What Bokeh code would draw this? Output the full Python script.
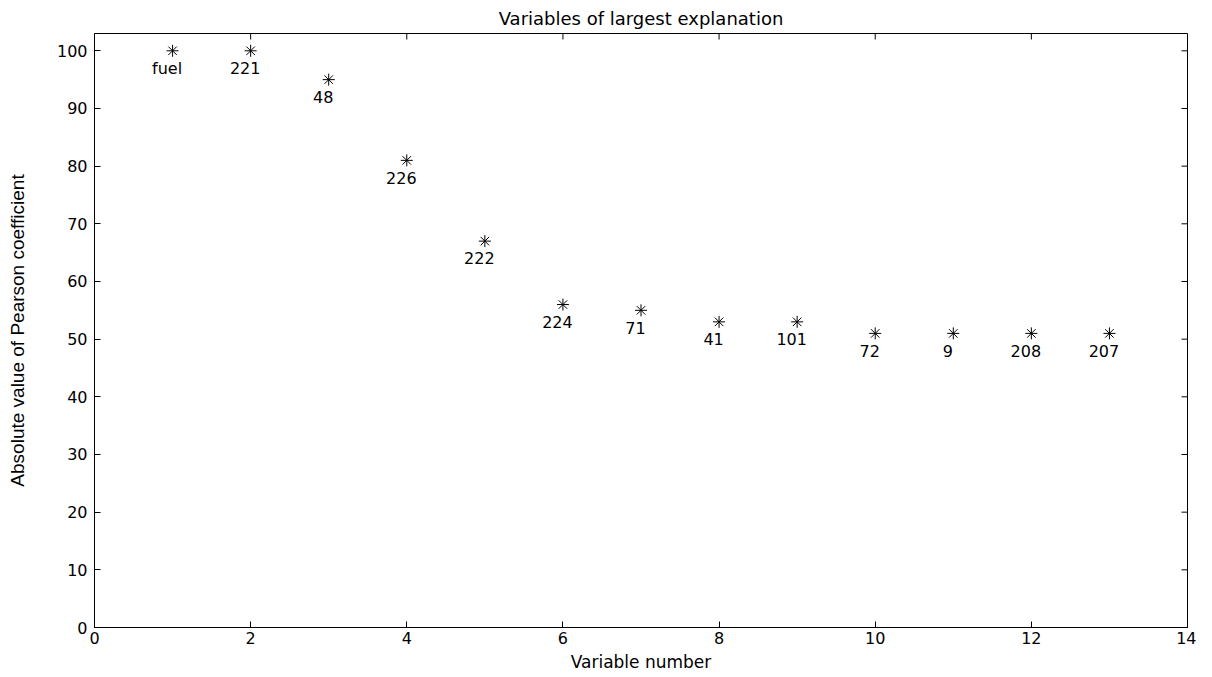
import math
from bokeh.plotting import figure
from bokeh.models import Range1d, ColumnDataSource, FixedTicker
from bokeh.embed import file_html
from bokeh.resources import INLINE
from bokeh.core.properties import value

# ---- data ----
variable_number = [1, 2, 3, 4, 5, 6, 7, 8, 9, 10, 11, 12, 13]
pearson_abs = [100, 100, 95, 81, 67, 56, 55, 53, 53, 51, 51, 51, 51]
names = ["fuel", "221", "48", "226", "222", "224", "71", "41", "101", "72", "9", "208", "207"]
x_ticks = [0, 2, 4, 6, 8, 10, 12, 14]
y_ticks = [0, 10, 20, 30, 40, 50, 60, 70, 80, 90, 100]
x_lim = (0, 14)
y_lim = (0, 103)

FONT = "DejaVu Sans"

src = ColumnDataSource(dict(
    x=variable_number,
    y=pearson_abs,
    lx=[v - 0.07 for v in variable_number],
    ly=[v - 3 for v in pearson_abs],
    name=names,
))

p = figure(width=1196, height=674, output_backend="svg", toolbar_location=None,
           x_range=Range1d(*x_lim), y_range=Range1d(*y_lim),
           title="Variables of largest explanation",
           min_border_left=94, min_border_right=9, min_border_top=33, min_border_bottom=46)

p.title.align = "center"
p.title.text_font = FONT
p.title.text_font_size = "18px"
p.title.text_font_style = "normal"
p.title.text_color = "black"
p.title.offset = 0
p.title.standoff = 9

p.xgrid.visible = False
p.ygrid.visible = False
p.outline_line_color = "black"
p.outline_line_width = 1
p.background_fill_color = "white"
p.border_fill_color = "white"

for ax in [p.xaxis[0], p.yaxis[0]]:
    ax.major_tick_in = 6
    ax.major_tick_out = 0
    ax.minor_tick_line_color = None
    ax.axis_line_color = "black"
    ax.major_tick_line_color = "black"
    ax.major_label_text_font = FONT
    ax.major_label_text_font_size = "16px"
    ax.major_label_text_color = "black"
    ax.axis_label_text_font_style = "normal"
    ax.axis_label_text_color = "black"

p.xaxis[0].ticker = FixedTicker(ticks=x_ticks)
p.yaxis[0].ticker = FixedTicker(ticks=y_ticks)
p.xaxis[0].major_label_standoff = 4
p.yaxis[0].major_label_standoff = 7

p.xaxis.axis_label = "Variable number"
p.xaxis.axis_label_text_font = FONT
p.xaxis.axis_label_text_font_size = "17px"
p.xaxis.axis_label_standoff = 5

p.yaxis.axis_label = "Absolute value of Pearson coefficient"
p.yaxis.axis_label_text_font = "Liberation Sans"
p.yaxis.axis_label_text_font_size = "19px"
p.yaxis.axis_label_standoff = 26

# mirror ticks on top and right edges (inward, 6px)
p.ray(x=x_ticks, y=[y_lim[1]] * len(x_ticks), length=6, length_units="screen",
      angle=-math.pi / 2, line_color="black", line_width=1)
p.ray(x=[x_lim[1]] * len(y_ticks), y=y_ticks, length=6, length_units="screen",
      angle=math.pi, line_color="black", line_width=1)

p.scatter("x", "y", source=src, marker="asterisk", size=12, line_color="black", line_width=1)
p.text("lx", "ly", text="name", source=src, text_align="center", text_baseline="middle",
       text_font=value(FONT), text_font_size="16px", text_color="black")

open("out.html", "w").write(file_html(p, INLINE))
